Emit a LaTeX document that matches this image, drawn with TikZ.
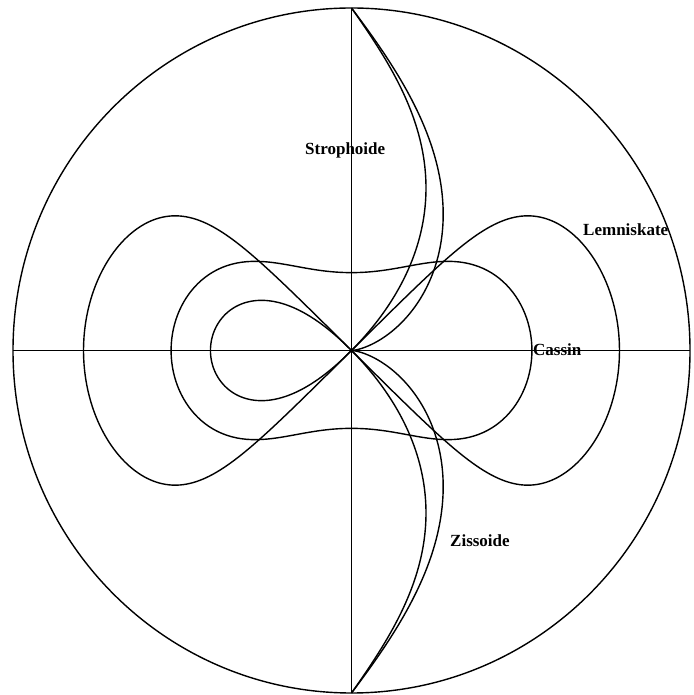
\documentclass[tikz,border=0pt]{standalone}
\usepackage{fontspec}
\setmainfont{Liberation Serif}
\begin{document}
\begin{tikzpicture}[x=1pt,y=1pt,
  curve/.style={line width=1.4pt, line join=round},
  axis/.style={line width=1.3pt},
  lbl/.style={inner sep=0pt, anchor=base west, font=\bfseries\fontsize{17}{20}\selectfont}]
\useasboundingbox (0,0) rectangle (693,695);
\begin{scope}[shift={(351.5,344.5)}]
  \def\Rx{338.5}\def\Ry{342.5}\def\cc{1.4}
  % boundary circle
  \coordinate (O) at (0,0);
  \draw[curve] (O) ellipse [x radius=\Rx pt, y radius=\Ry pt];
  % axes
  \coordinate (W) at (-\Rx,0);
  \coordinate (E) at (\Rx,0);
  \coordinate (N) at (0,\Ry);
  \coordinate (S) at (0,-\Ry);
  \draw[axis] (W) -- (E);
  \draw[axis] (N) -- (S);
  % strophoid
  \draw[curve] plot[domain=45:90, samples=160, variable=\t]
    ({\Rx*cos(2*\t)/(cos(2*\t)-\cc*cos(\t))*cos(\t)},
     {\Ry*cos(2*\t)/(cos(2*\t)-\cc*cos(\t))*sin(\t)});
  \draw[curve] plot[domain=270:315, samples=160, variable=\t]
    ({\Rx*cos(2*\t)/(cos(2*\t)-\cc*cos(\t))*cos(\t)},
     {\Ry*cos(2*\t)/(cos(2*\t)-\cc*cos(\t))*sin(\t)});
  \draw[curve] plot[domain=135:225, samples=160, variable=\t]
    ({\Rx*cos(2*\t)/(cos(2*\t)-\cc*cos(\t))*cos(\t)},
     {\Ry*cos(2*\t)/(cos(2*\t)-\cc*cos(\t))*sin(\t)});
  % cissoid
  \def\kk{1.07}
  \draw[curve] plot[domain=-90:90, samples=240, variable=\t]
    ({\Rx*\kk*sin(\t)^2/(\kk*sin(\t)^2+\cc*cos(\t))*cos(\t)},
     {\Ry*\kk*sin(\t)^2/(\kk*sin(\t)^2+\cc*cos(\t))*sin(\t)});
  % lemniscate
  \def\LL{5.32}
  \draw[curve] plot[domain=0:360, samples=300, variable=\t]
    ({\Rx*\LL*cos(\t)/(1+sin(\t)^2)/(\LL*abs(cos(\t))/sqrt(1+sin(\t)^2)+\cc)},
     {0.98*\Ry*\LL*sin(\t)*cos(\t)/(1+sin(\t)^2)/(\LL*abs(cos(\t))/sqrt(1+sin(\t)^2)+\cc)}) -- cycle;
  % Cassini oval
  \def\bb{1.192}\def\dd{0.4334}
  \draw[curve] plot[domain=0:360, samples=240, variable=\t]
    ({\Rx*sqrt(\bb*cos(2*\t)+sqrt(\bb*\bb*cos(2*\t)^2+\dd))/(sqrt(\bb*cos(2*\t)+sqrt(\bb*\bb*cos(2*\t)^2+\dd))+\cc)*cos(\t)},
     {\Ry*sqrt(\bb*cos(2*\t)+sqrt(\bb*\bb*cos(2*\t)^2+\dd))/(sqrt(\bb*cos(2*\t)+sqrt(\bb*\bb*cos(2*\t)^2+\dd))+\cc)*sin(\t)}) -- cycle;
\end{scope}
% labels (image coordinates: y = 695 - row)
\node[lbl] (strophoide) at (305,540) {Strophoide};
\node[lbl] (lemniskate) at (583,459) {Lemniskate};
\node[lbl] (cassin) at (533,339) {Cassin};
\node[lbl] (zissoide) at (450,148) {Zissoide};
\end{tikzpicture}
\end{document}
